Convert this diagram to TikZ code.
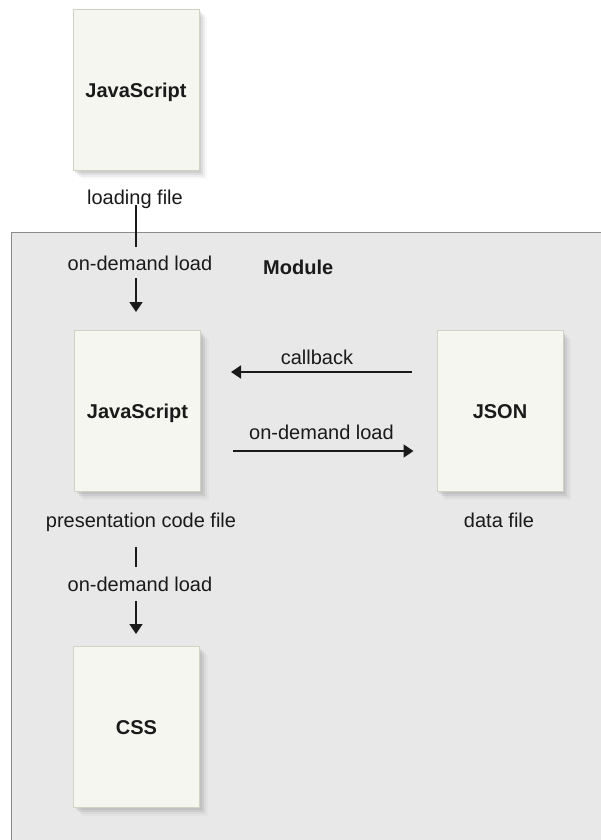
\documentclass[tikz,border=0pt]{standalone}
\usepackage{fontspec}
\setmainfont{Liberation Sans}
\usetikzlibrary{arrows.meta,shadows}
\definecolor{boxfill}{HTML}{F6F6F0}
\definecolor{boxborder}{HTML}{D2D2C4}
\definecolor{modfill}{HTML}{E8E8E8}
\definecolor{modborder}{HTML}{8C8C8C}
\definecolor{ink}{HTML}{1A1A1A}
\begin{document}
\begin{tikzpicture}[x=1pt,y=-1pt,
  font=\fontsize{20}{24}\selectfont,
  filebox/.style={draw=boxborder, fill=boxfill, line width=1pt,
    minimum width=126pt, minimum height=161pt, inner sep=0pt,
    text height=14.3pt, text depth=0pt, font=\fontsize{20}{24}\selectfont\bfseries, text=ink,
    drop shadow={shadow xshift=2pt,shadow yshift=-2pt,opacity=0.16},
    drop shadow={shadow xshift=4pt,shadow yshift=-4pt,opacity=0.13},
    drop shadow={shadow xshift=6pt,shadow yshift=-6pt,opacity=0.09},
    drop shadow={shadow xshift=8pt,shadow yshift=-8pt,opacity=0.05}},
  lbl/.style={inner sep=0pt, text height=14.3pt, text depth=4pt, text=ink},
  conn/.style={draw=ink, line width=1.5pt},
  arr/.style={conn, -{Triangle[width=13pt,length=10pt]}}
]
\useasboundingbox (0,0) rectangle (600,840);
\fill[white] (0,0) rectangle (600,840);
% module area
\draw[fill=modfill, draw=modborder, line width=1.2pt] (11.5,232.5) rectangle (620,860);
\node[lbl, anchor=base west, font=\fontsize{20}{24}\selectfont\bfseries] (module) at (263,274) {Module};

% boxes
\node[filebox] (jsload) at (136,90) {JavaScript};
\node[filebox] (jspres) at (137.5,411) {JavaScript};
\node[filebox] (css) at (136.5,727) {CSS};
\node[filebox] (json) at (500,411) {JSON};

% captions
\node[lbl, anchor=base] (loadlbl) at (135,204) {loading file};
\node[lbl, anchor=base] (preslbl) at (141,527) {presentation code file};
\node[lbl, anchor=base] (datalbl) at (499,527) {data file};

% connector labels
\node[lbl, anchor=base] (odl1) at (140,270) {on-demand load};
\node[lbl, anchor=base] (odl2) at (140,591) {on-demand load};
\node[lbl, anchor=base] (cblbl) at (317,364) {callback};
\node[lbl, anchor=base] (odl3) at (321.5,439) {on-demand load};

% vertical connectors
\draw[conn, shorten <=-3pt, shorten >=9pt] (loadlbl.south -| jsload) -- (odl1.north -| jsload);
\draw[arr, shorten <=4pt, shorten >=18pt] (odl1.south -| jsload) -- (jspres.north -| jsload);
\draw[conn, shorten <=16pt, shorten >=10pt] (preslbl.south -| jsload) -- (odl2.north -| jsload);
\draw[arr, shorten <=6pt, shorten >=12pt] (odl2.south -| jsload) -- (css.north -| jsload);

% horizontal connectors
\draw[arr, shorten <=25pt, shorten >=30pt] (json.west |- 0,372) -- (jspres.east |- 0,372);
\draw[arr, shorten <=32pt, shorten >=23pt] (jspres.east |- 0,451) -- (json.west |- 0,451);
\end{tikzpicture}
\end{document}
